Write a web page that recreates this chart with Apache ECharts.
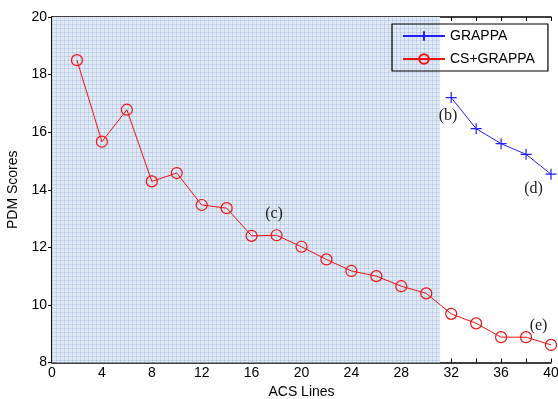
<!DOCTYPE html>
<html>
<head>
<meta charset="utf-8">
<script src="https://cdn.jsdelivr.net/npm/echarts@6/dist/echarts.min.js"></script>
<style>html,body{margin:0;padding:0;background:#fff;}#c{width:558px;height:399px;}</style>
</head>
<body>
<div id="c"></div>
<script>
const csX = [2,4,6,8,10,12,14,16,18,20,22,24,26,28,30,32,34,36,38,40];
const csY = [18.5,15.67,16.78,14.29,14.58,13.47,13.36,12.4,12.42,12.02,11.58,11.18,11.0,10.65,10.4,9.69,9.36,8.88,8.88,8.61];
const grX = [32,34,36,38,40];
const grY = [17.2,16.12,15.6,15.23,14.54];
const shadeRange = [0, 31.1];
const notes = [
  {text:'(b)', x:31.75, y:16.58},
  {text:'(c)', x:17.8, y:13.18},
  {text:'(d)', x:38.6, y:14.05},
  {text:'(e)', x:39.0, y:9.26}
];
const xTicks = {min:0, max:40, interval:4};
const yTicks = {min:8, max:20, interval:2};

// pattern tile
const tile = document.createElement('canvas');
tile.width = 4; tile.height = 4;
const tc = tile.getContext('2d');
tc.fillStyle = '#e1e9f5'; tc.fillRect(0,0,4,4);
tc.fillStyle = '#c6d5ea'; tc.fillRect(0,0,4,1); tc.fillRect(0,0,1,4);
tc.fillStyle = '#b2c5e2'; tc.fillRect(0,0,1,1);

const chart = echarts.init(document.getElementById('c'), null, {renderer:'canvas'});
const FONT = 'Liberation Sans, Arial, sans-serif';
const axisLine = {show:true, lineStyle:{color:'#000', width:1.5}};
const tickStyle = {inside:true, length:4, lineStyle:{color:'#000', width:1}};
const lblFont = {color:'#000', fontSize:14, fontFamily:FONT};

chart.setOption({
  animation:false,
  grid:{left:52, right:7, top:17, bottom:36.5, show:false, containLabel:false, outerBoundsMode:'none'},
  legend:{
    orient:'vertical', left:392, top:24,
    padding:[5,13,5,10], itemGap:9, itemWidth:42, itemHeight:12,
    borderColor:'#000', borderWidth:1.2, backgroundColor:'transparent',
    textStyle:{color:'#000', fontSize:14, fontFamily:FONT},
    data:['GRAPPA','CS+GRAPPA']
  },
  xAxis:[{
    type:'value', min:xTicks.min, max:xTicks.max, interval:xTicks.interval,
    name:'ACS Lines', nameLocation:'middle', nameGap:21,
    nameTextStyle:{color:'#000', fontSize:14, fontFamily:FONT},
    axisLine:axisLine, axisTick:tickStyle,
    minorTick:{show:true, splitNumber:2, length:4, lineStyle:{color:'#000'}},
    axisLabel:Object.assign({margin:4}, lblFont),
    splitLine:{show:false}
  },{
    type:'value', position:'top', min:xTicks.min, max:xTicks.max, interval:xTicks.interval,
    axisLine:axisLine, axisTick:tickStyle,
    minorTick:{show:true, splitNumber:2, length:4, lineStyle:{color:'#000'}},
    axisLabel:{show:false}, splitLine:{show:false}
  }],
  yAxis:[{
    type:'value', min:yTicks.min, max:yTicks.max, interval:yTicks.interval,
    name:'PDM Scores', nameLocation:'middle', nameGap:29,
    nameTextStyle:{color:'#000', fontSize:14, fontFamily:FONT},
    axisLine:axisLine, axisTick:tickStyle,
    axisLabel:Object.assign({margin:5}, lblFont),
    splitLine:{show:false}
  },{
    type:'value', position:'right', min:yTicks.min, max:yTicks.max, interval:yTicks.interval,
    axisLine:axisLine, axisTick:tickStyle, axisLabel:{show:false}, splitLine:{show:false}
  }],
  series:[{
    name:'GRAPPA', type:'line', xAxisIndex:0, yAxisIndex:0, z:4,
    data:grX.map((x,i)=>[x,grY[i]]),
    symbol:'path://M5,0L5,10M0,5L10,5', symbolSize:11, showAllSymbol:true,
    lineStyle:{color:'#1f1fff', width:1},
    itemStyle:{color:'#1f1fff', borderColor:'#1f1fff', borderWidth:1.2}
  },{
    name:'CS+GRAPPA', type:'line', xAxisIndex:0, yAxisIndex:0, z:4,
    data:csX.map((x,i)=>[x,csY[i]]),
    symbol:'circle', symbolSize:11, showAllSymbol:true,
    lineStyle:{color:'#ee1111', width:1},
    itemStyle:{color:'rgba(255,255,255,0)', borderColor:'#ee1111', borderWidth:1.2},
    markArea:{
      silent:true,
      itemStyle:{color:{image:tile, repeat:'repeat'}},
      data:[[{xAxis:shadeRange[0], yAxis:8},{xAxis:shadeRange[1], yAxis:20}]]
    },
    markPoint:{
      silent:true, symbol:'circle', symbolSize:0,
      label:{show:true, position:'inside', color:'#222', fontSize:16,
             fontFamily:'Liberation Serif, Times New Roman, serif',
             formatter:p=>p.name},
      data:notes.map(n=>({name:n.text, coord:[n.x,n.y]}))
    }
  }]
});
</script>
</body>
</html>
